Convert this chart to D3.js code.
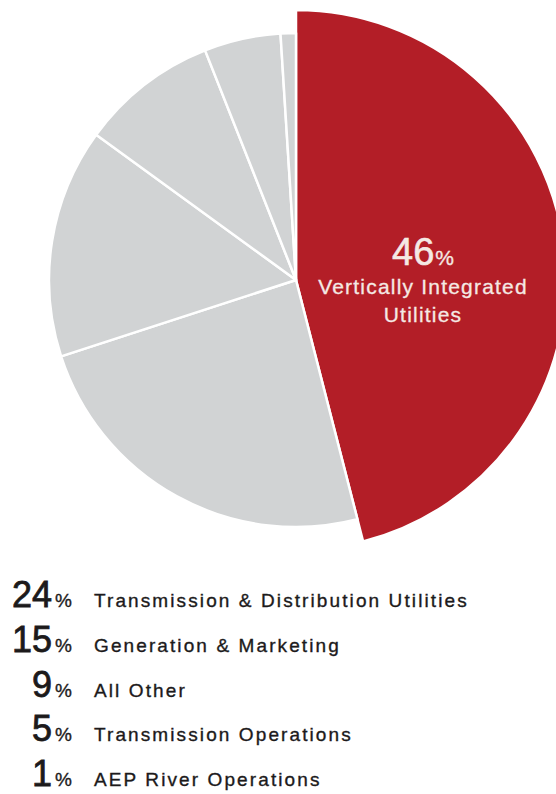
<!DOCTYPE html>
<html><head><meta charset="utf-8">
<script src="https://cdn.jsdelivr.net/npm/d3@7"></script>
<style>
html,body{margin:0;padding:0;background:#fff;overflow:hidden}
svg{display:block}
text{font-family:"Liberation Sans",Arial,sans-serif}
</style></head>
<body>
<script>
const categories = ["Vertically Integrated Utilities","Transmission & Distribution Utilities","Generation & Marketing","All Other","Transmission Operations","AEP River Operations"];
const values = [46,24,15,9,5,1];
const highlight = [true,false,false,false,false,false];

const W=556,H=794;
const svg=d3.select("body").append("svg").attr("width",W).attr("height",H);
const cx=296,cy=280,rIn=247,rOut=270;
const pie=d3.pie().sort(null).value(d=>d.v);
const arcs=pie(values.map((v,i)=>({v,name:categories[i],hi:highlight[i]})));
const g=svg.append("g").attr("transform",`translate(${cx},${cy})`);
g.selectAll("path").data(arcs).join("path")
 .attr("d",d=>d3.arc().innerRadius(0).outerRadius(d.data.hi?rOut:rIn)(d))
 .attr("fill",d=>d.data.hi?"#b31e27":"#d1d3d4")
 .attr("stroke","#fff").attr("stroke-width",2.5).attr("stroke-linejoin","round");

// big label in highlighted slice
const hi=arcs[0];
const lab=svg.append("g").attr("fill","#f5e9e4").attr("stroke","#f5e9e4").attr("stroke-width",0.3).attr("text-anchor","middle");
const t1=lab.append("text").attr("x",cx+127).attr("y",265);
t1.append("tspan").attr("font-size",38).attr("stroke-width",0.6).text(hi.data.v);
t1.append("tspan").attr("font-size",21).attr("dx",1).text("%");
const words=hi.data.name.split(" ");
lab.append("text").attr("x",cx+127).attr("y",294).attr("font-size",21).attr("letter-spacing",1.2).text(words.slice(0,2).join(" "));
lab.append("text").attr("x",cx+127).attr("y",322).attr("font-size",21).attr("letter-spacing",1.2).text(words.slice(2).join(" "));

// legend
const rows=arcs.slice(1);
const y=d3.scalePoint().domain(rows.map(d=>d.data.name)).range([607,786]);
const leg=svg.append("g").attr("fill","#1c1a1b").attr("stroke","#1c1a1b").attr("stroke-width",0.35);
rows.forEach(d=>{
  const yy=y(d.data.name);
  leg.append("text").attr("x",52).attr("y",yy).attr("text-anchor","end").attr("font-size",36).attr("stroke-width",0.8).text(d.data.v);
  leg.append("text").attr("x",55).attr("y",yy).attr("font-size",19).attr("letter-spacing",1).text("%");
  leg.append("text").attr("x",94).attr("y",yy).attr("font-size",19).attr("letter-spacing",2.1).text(d.data.name);
});
</script>
</body></html>
